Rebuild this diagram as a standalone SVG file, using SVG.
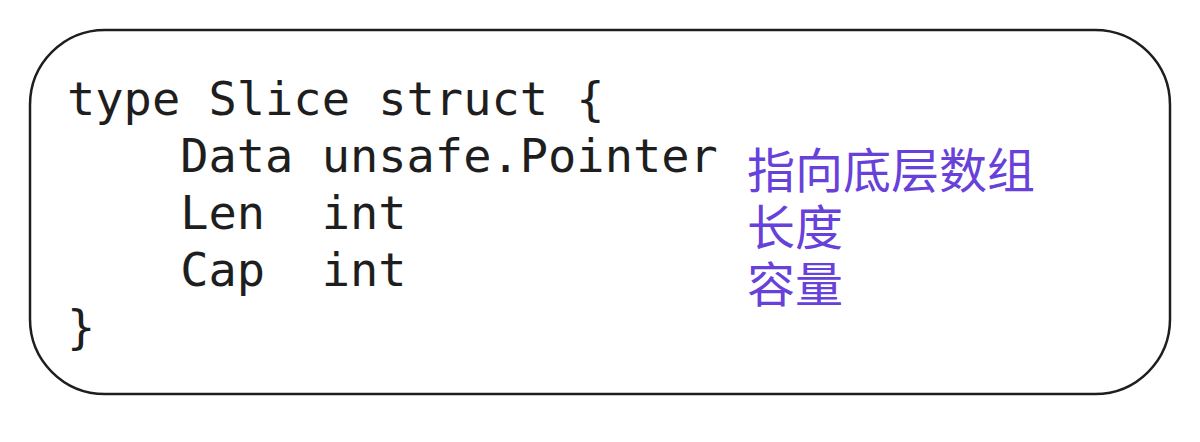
<svg xmlns="http://www.w3.org/2000/svg" width="1200" height="442" viewBox="0 0 1200 442">
<style>
.code{font-family:"DejaVu Sans Mono","Liberation Mono",monospace;font-size:47px;fill:#1e1e1e;white-space:pre}
.note{font-family:"Noto Sans CJK SC","Noto Sans",sans-serif;font-size:48px;fill:#6741d9}
</style>
<rect width="1200" height="442" fill="#ffffff"/>
<g id="struct-box">
<rect x="30" y="30" width="1140" height="364" rx="75" ry="75" fill="none" stroke="#1e1e1e" stroke-width="2.5"/>
<text class="code" x="67" y="115" xml:space="preserve">type Slice struct {</text>
<text class="code" x="67" y="172" xml:space="preserve">    Data unsafe.Pointer</text>
<text class="code" x="67" y="229" xml:space="preserve">    Len  int</text>
<text class="code" x="67" y="286" xml:space="preserve">    Cap  int</text>
<text class="code" x="67" y="343" xml:space="preserve">}</text>
</g>
<g id="notes">
<text class="note" x="747" y="188">指向底层数组</text>
<text class="note" x="747" y="245">长度</text>
<text class="note" x="747" y="302">容量</text>
</g>
<g id="connectors"></g>
</svg>
